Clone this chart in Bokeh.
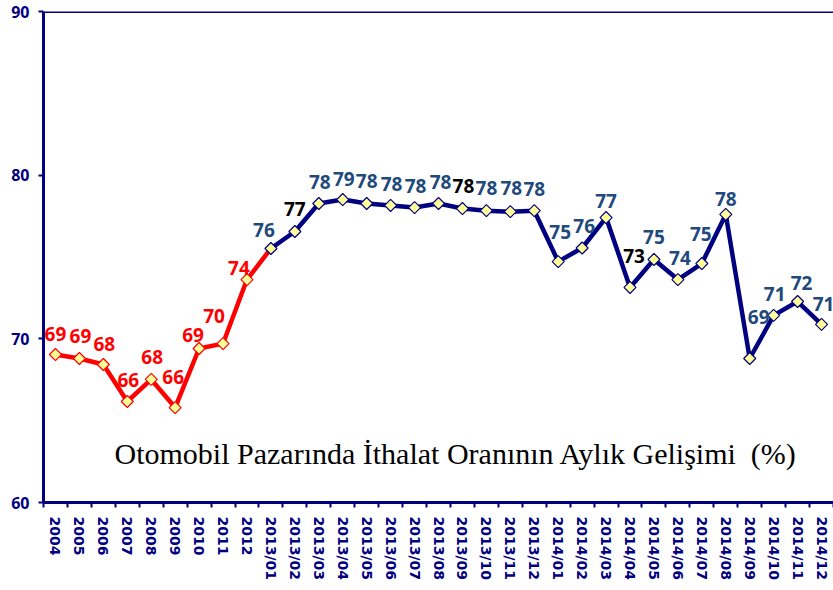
import math
from bokeh.plotting import figure
from bokeh.models import Range1d, FixedTicker, Span, ColumnDataSource, Label
from bokeh.core.properties import value
from bokeh.embed import file_html
from bokeh.resources import INLINE

# ---- data ----
categories = ["2004", "2005", "2006", "2007", "2008", "2009", "2010", "2011", "2012",
              "2013/01", "2013/02", "2013/03", "2013/04", "2013/05", "2013/06",
              "2013/07", "2013/08", "2013/09", "2013/10", "2013/11", "2013/12",
              "2014/01", "2014/02", "2014/03", "2014/04", "2014/05", "2014/06",
              "2014/07", "2014/08", "2014/09", "2014/10", "2014/11", "2014/12"]
import_share = [69.04, 68.80, 68.43, 66.17, 67.52, 65.80, 69.41, 69.71, 73.62,
                75.52, 76.56, 78.27, 78.51, 78.27, 78.15,
                78.02, 78.27, 77.96, 77.83, 77.77, 77.83,
                74.72, 75.55, 77.41, 73.14, 74.85, 73.62,
                74.60, 77.60, 68.80, 71.43, 72.28, 70.88]
y_ticks = [60, 70, 80, 90]
title_text = "Otomobil Pazarında İthalat Oranının Aylık Gelişimi \u00a0(%)"

# ---- styling (label offsets in screen pixels, colours) ----
label_dx = [0, 1, 1, 1, 1, -2, -6, -9, -8,
            -7, 0, 1, 1, 0, 1, 1, 2, 1, 0, 1, 0,
            2, 2, 0, 4, 0, 2, -1, 0, 9, 1, 4, 2]
label_dy = [-21, -22, -21, -22, -22, -31, -13, -28, -12,
            -18, -22, -21, -21, -22, -21, -22, -21, -23, -23, -24, -22,
            -30, -22, -17, -31, -22, -22, -30, -15, -41, -21, -19, -20]

NAVY = "#000080"
RED = "#FF0000"
LBL_BLUE = "#1F4A7C"
n_red = 9          # yearly points
black_labels = {10, 17, 24}

xs = list(range(len(categories)))
label_colors = []
for i in xs:
    if i < n_red:
        label_colors.append(RED)
    elif i in black_labels:
        label_colors.append("#000000")
    else:
        label_colors.append(LBL_BLUE)

p = figure(width=833, height=588, output_backend="svg", toolbar_location=None,
           x_range=Range1d(-0.5, len(categories) - 0.5), y_range=Range1d(60, 90),
           min_border_left=43, min_border_right=0, min_border_top=11, min_border_bottom=86)
p.outline_line_color = None
p.xgrid.visible = False
p.ygrid.visible = False
p.background_fill_color = "white"
p.border_fill_color = "white"

# axes
p.yaxis.ticker = FixedTicker(ticks=y_ticks)
p.yaxis.axis_line_color = NAVY
p.yaxis.axis_line_width = 3
p.yaxis.major_tick_line_color = NAVY
p.yaxis.major_tick_line_width = 2
p.yaxis.major_tick_out = 5
p.yaxis.major_tick_in = 0
p.yaxis.minor_tick_line_color = None
p.yaxis.major_label_text_font = "Open Sans"
p.yaxis.major_label_text_font_style = "bold"
p.yaxis.major_label_text_font_size = "16px"
p.yaxis.major_label_text_color = NAVY
p.yaxis.major_label_standoff = 9

p.xaxis.ticker = FixedTicker(ticks=xs, minor_ticks=[i - 0.5 for i in range(len(categories) + 1)])
p.xaxis.major_label_overrides = {i: c for i, c in enumerate(categories)}
p.xaxis.major_label_orientation = "vertical"
p.xaxis.axis_line_color = NAVY
p.xaxis.axis_line_width = 3
p.xaxis.major_tick_out = 0
p.xaxis.major_tick_in = 0
p.xaxis.major_tick_line_color = None
p.xaxis.minor_tick_line_color = NAVY
p.xaxis.minor_tick_line_width = 2
p.xaxis.minor_tick_out = 5
p.xaxis.minor_tick_in = 0
p.xaxis.major_label_text_font = "DejaVu Sans"
p.xaxis.major_label_text_font_style = "bold"
p.xaxis.major_label_text_font_size = "14px"
p.xaxis.major_label_text_color = NAVY
p.xaxis.major_label_standoff = 9

p.add_layout(Span(location=90, dimension="width", line_color=NAVY, line_width=3))

# lines
p.line(xs[:n_red + 1], import_share[:n_red + 1], line_color=RED, line_width=4.5)
p.line(xs[n_red:], import_share[n_red:], line_color=NAVY, line_width=4.5)

marker_lines = [RED if i < n_red else NAVY for i in xs]
p.scatter(xs, import_share, marker="square", angle=math.pi / 4, size=8.5,
          fill_color="#FFFF99", line_color=marker_lines, line_width=1.2)

src = ColumnDataSource(dict(x=xs, y=import_share,
                            t=[str(int(round(v))) for v in import_share],
                            c=label_colors, dx=label_dx, dy=label_dy))
p.text(x="x", y="y", text="t", x_offset="dx", y_offset="dy", source=src,
       text_color="c", text_font=value("Open Sans"), text_font_style="bold",
       text_font_size="19px", text_align="center", text_baseline="middle")

p.add_layout(Label(x=16.73, y=62.99, text=title_text, text_align="center",
                   text_baseline="alphabetic", text_font="Liberation Serif",
                   text_font_size="30px", text_color="#000000"))

open("out.html", "w").write(file_html(p, INLINE))
